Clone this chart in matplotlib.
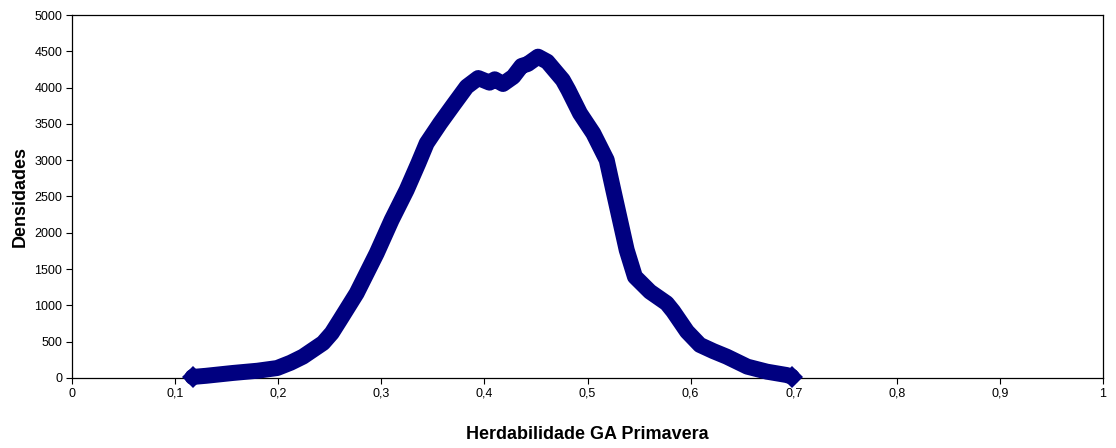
import matplotlib
matplotlib.use('Agg')
import matplotlib.pyplot as plt
from matplotlib.ticker import FixedLocator

# Values
heritability = [0.117, 0.13, 0.156, 0.18, 0.199, 0.212, 0.224, 0.2435, 0.252, 0.26,
                0.2761, 0.2955, 0.310, 0.3246, 0.3359, 0.344, 0.357, 0.3698, 0.3828, 0.394,
                0.405, 0.410, 0.418, 0.428, 0.436, 0.442, 0.452, 0.461, 0.476, 0.4814,
                0.4927, 0.5056, 0.5186, 0.525, 0.5315, 0.538, 0.546, 0.5606, 0.5768, 0.583,
                0.5965, 0.609, 0.622, 0.635, 0.655, 0.674, 0.693, 0.698]
density = [14, 30, 69, 100, 137, 210, 294, 482, 620, 800,
           1167, 1717, 2176, 2590, 2957, 3233, 3508, 3760, 4012, 4132,
           4068, 4114, 4050, 4150, 4298, 4325, 4426, 4357, 4105, 3967,
           3646, 3370, 3003, 2590, 2176, 1763, 1395, 1189, 1029, 920,
           640, 455, 370, 294, 156, 87, 41, 20]

x_ticks = [0, 0.1, 0.2, 0.3, 0.4, 0.5, 0.6, 0.7, 0.8, 0.9, 1]
x_tick_labels = ['0', '0,1', '0,2', '0,3', '0,4', '0,5', '0,6', '0,7', '0,8', '0,9', '1']
y_ticks = list(range(0, 5001, 500))

plt.rcParams['font.family'] = ['Liberation Sans', 'DejaVu Sans']

fig = plt.figure(figsize=(11.16, 4.48), dpi=100)
ax = fig.add_axes([0.0645, 0.1563, 0.9239, 0.8102])

navy = '#000080'
ax.plot(heritability, density, color=navy, lw=11.5, solid_capstyle='round',
        solid_joinstyle='round', clip_on=False, zorder=3)
# diamond markers at the two ends of the curve
ax.plot([heritability[0], heritability[-1]], [density[0], density[-1]], ls='none',
        marker='D', ms=11.5, color=navy, markeredgewidth=0, clip_on=False, zorder=4)

ax.set_xlim(0, 1)
ax.set_ylim(0, 5000)
ax.xaxis.set_major_locator(FixedLocator(x_ticks))
ax.set_xticklabels(x_tick_labels)
ax.set_yticks(y_ticks)
ax.tick_params(axis='both', labelsize=9, length=4, width=0.8, direction='out', pad=3)

for side in ax.spines.values():
    side.set_linewidth(0.9)
    side.set_color('black')

ax.set_xlabel('Herdabilidade GA Primavera', fontsize=13, fontweight='bold', labelpad=19)
ax.set_ylabel('Densidades', fontsize=13, fontweight='bold', labelpad=4)

fig.savefig('out.png', dpi=100)
